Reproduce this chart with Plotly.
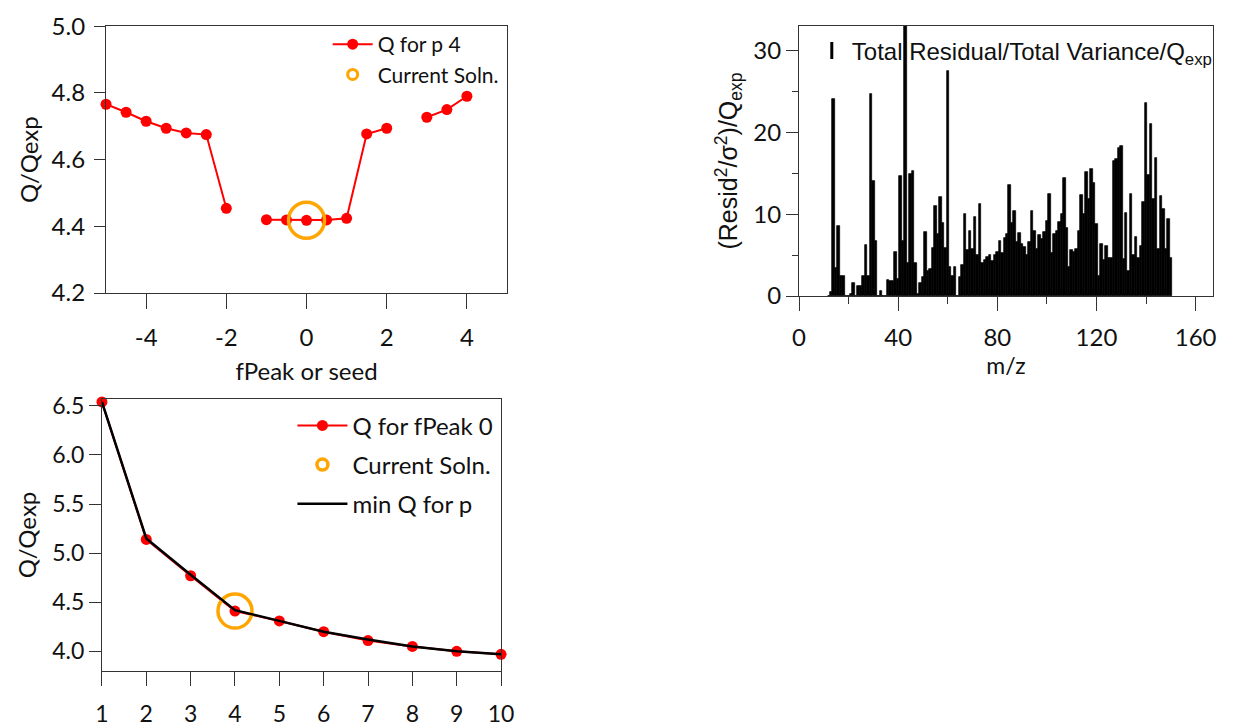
import plotly.graph_objects as go

# ---------------- data ----------------
# Top-left: Q/Qexp vs fPeak (p = 4)
fpeak = [-5, -4.5, -4, -3.5, -3, -2.5, -2, -1.5, -1, -0.5, 0, 0.5, 1, 1.5, 2, 2.5, 3, 3.5, 4]
q_p4 = [4.766, 4.742, 4.715, 4.694, 4.680, 4.675, 4.454, None, 4.420, 4.419, 4.418, 4.419,
        4.424, 4.677, 4.694, None, 4.727, 4.750, 4.790]
cur_fpeak = [0]
cur_q_fpeak = [4.418]
fpeak_tickvals = [-4, -2, 0, 2, 4]
fpeak_ticktext = ["-4", "-2", "0", "2", "4"]

# Bottom-left: Q/Qexp vs number of factors p
p_vals = [1, 2, 3, 4, 5, 6, 7, 8, 9, 10]
q_fpeak0 = [6.54, 5.14, 4.77, 4.41, 4.31, 4.20, 4.11, 4.05, 4.00, 3.97]
min_q_p = [6.54, 5.15, 4.78, 4.42, 4.31, 4.20, 4.12, 4.05, 4.00, 3.97]
cur_p = [4]
cur_q_p = [4.41]

# Top-right: scaled residual per m/z
mz = list(range(12, 151))
resid = [0, 0.5, 24.1, 3.4, 8.5, 2.5, 2.5, 0, 0, 0.3,
         1.6, 0, 1.2, 1.2, 2.4, 6.2, 2.5, 24.7, 14.0, 6.7,
         0, 0.6, 0, 0, 2.0, 1.8, 1.8, 5.4, 2.1, 14.7,
         6.7, 40.0, 4.0, 14.9, 15.3, 4.0, 0.3, 1.6, 2.3, 7.8,
         3.0, 3.3, 5.9, 11.0, 7.6, 12.1, 8.9, 5.9, 27.5, 3.5,
         2.4, 3.5, 0, 2.3, 3.8, 10.0, 5.6, 8.0, 5.8, 9.7,
         5.0, 11.3, 4.0, 4.4, 4.8, 5.0, 4.3, 5.0, 5.4, 6.7,
         5.2, 7.1, 7.6, 13.6, 8.9, 10.4, 6.6, 7.7, 6.4, 6.0,
         5.0, 6.6, 10.4, 8.0, 5.8, 7.4, 7.0, 7.8, 9.2, 12.5,
         5.2, 7.6, 8.0, 9.0, 10.0, 14.4, 8.3, 3.5, 5.6, 5.4,
         5.7, 8.0, 12.4, 10.0, 15.1, 11.8, 15.5, 13.8, 8.8, 2.5,
         6.3, 4.4, 6.1, 4.6, 4.6, 16.5, 16.8, 18.1, 18.3, 4.5,
         10.2, 3.0, 12.5, 5.0, 7.2, 4.6, 6.1, 11.5, 23.6, 14.8,
         21.0, 11.8, 16.9, 5.8, 12.2, 10.6, 5.8, 9.4, 4.6]

# ---------------- styles ----------------
RED = "#FF0000"
ORANGE = "#FFA500"
AX = "#333333"
TXT = "#111111"
TICKFONT = dict(family="Lato", size=24, color=TXT)
NB = "\u00a0"

fig = go.Figure()

# Top-left traces
fig.add_trace(go.Scatter(x=fpeak, y=q_p4, mode="lines+markers", name="Q for p 4",
                         line=dict(color=RED, width=2), marker=dict(color=RED, size=11),
                         xaxis="x", yaxis="y", legend="legend", legendgroup="a1",
                         cliponaxis=False, connectgaps=False))
fig.add_trace(go.Scatter(x=cur_fpeak, y=cur_q_fpeak, mode="markers", name="Current Soln.",
                         marker=dict(symbol="circle-open", size=36, color=ORANGE,
                                     line=dict(width=3.5, color=ORANGE)),
                         xaxis="x", yaxis="y", showlegend=False, cliponaxis=False))
fig.add_trace(go.Scatter(x=[None], y=[None], mode="markers", name="Current Soln.",
                         marker=dict(symbol="circle-open", size=10, color=ORANGE,
                                     line=dict(width=3, color=ORANGE)),
                         xaxis="x", yaxis="y", legend="legend", legendgroup="a2"))

# Top-right bars
fig.add_trace(go.Bar(x=mz, y=resid, marker=dict(color="black", line=dict(width=0.7, color="black")),
                     width=1.0, showlegend=False, xaxis="x2", yaxis="y2"))
fig.add_trace(go.Scatter(x=[None], y=[None], mode="markers",
                         name="Total Residual/Total Variance/Q<sub>exp</sub>",
                         marker=dict(symbol="line-ns", size=12, color="black",
                                     line=dict(width=3, color="black")),
                         xaxis="x2", yaxis="y2", legend="legend2"))

# Bottom-left traces
fig.add_trace(go.Scatter(x=p_vals, y=q_fpeak0, mode="lines+markers", name="Q for fPeak 0",
                         line=dict(color=RED, width=2), marker=dict(color=RED, size=11),
                         xaxis="x3", yaxis="y3", legend="legend3", legendgroup="b1",
                         cliponaxis=False))
fig.add_trace(go.Scatter(x=cur_p, y=cur_q_p, mode="markers", name="Current Soln.",
                         marker=dict(symbol="circle-open", size=34, color=ORANGE,
                                     line=dict(width=3.5, color=ORANGE)),
                         xaxis="x3", yaxis="y3", showlegend=False, cliponaxis=False))
fig.add_trace(go.Scatter(x=[None], y=[None], mode="markers", name="Current Soln.",
                         marker=dict(symbol="circle-open", size=11, color=ORANGE,
                                     line=dict(width=3.5, color=ORANGE)),
                         xaxis="x3", yaxis="y3", legend="legend3", legendgroup="b2"))
fig.add_trace(go.Scatter(x=p_vals, y=min_q_p, mode="lines", name="min Q for p",
                         line=dict(color="black", width=2.5),
                         xaxis="x3", yaxis="y3", legend="legend3", legendgroup="b3",
                         cliponaxis=False))

axcommon = dict(showline=True, linecolor=AX, linewidth=1.2, mirror=True, showgrid=False,
                zeroline=False, ticks="outside", tickcolor=AX, tickwidth=1.2,
                tickfont=TICKFONT, automargin=False)

fig.update_layout(
    width=1241, height=728,
    margin=dict(l=0, r=0, t=0, b=0, autoexpand=False),
    paper_bgcolor="white", plot_bgcolor="white",
    xaxis=dict(axcommon, domain=[0.0790, 0.4021], range=[-5, 5],
               tickvals=fpeak_tickvals, ticktext=fpeak_ticktext,
               ticklen=15, anchor="y", ticklabelstandoff=8,
               title=dict(text="fPeak or seed", font=dict(family="Lato", size=24, color=TXT),
                          standoff=13)),
    yaxis=dict(axcommon, domain=[0.6085, 0.975], range=[4.2, 5.0], dtick=0.2, tickformat=".1f",
               ticklen=11, anchor="x", ticklabelstandoff=4,
               title=dict(text="Q/Qexp", font=dict(family="Lato", size=24, color=TXT),
                          standoff=6)),
    xaxis2=dict(axcommon, domain=[0.6374, 0.9710], range=[0, 167], tickvals=[0, 40, 80, 120, 160],
                ticklen=14, anchor="y2", ticklabelstandoff=6,
                minor=dict(tickvals=[20, 60, 100, 140], ticks="outside", ticklen=7,
                           tickcolor=AX, tickwidth=1.2),
                title=dict(text="m/z", font=dict(family="Lato", size=23, color=TXT),
                           standoff=0)),
    yaxis2=dict(axcommon, domain=[0.6044, 0.9753], range=[0, 33], tickvals=[0, 10, 20, 30],
                ticklen=12, anchor="x2",
                minor=dict(tickvals=[5, 15, 25], ticks="outside", ticklen=6,
                           tickcolor=AX, tickwidth=1.2),
                title=dict(text="(Resid<sup>2</sup>/σ<sup>2</sup>)/Q<sub>exp</sub>" + NB * 5,
                           font=dict(family="Liberation Sans", size=25, color=TXT),
                           standoff=8)),
    xaxis3=dict(axcommon, domain=[0.0757, 0.3973], range=[1, 10], dtick=1, ticklen=14,
                anchor="y3", ticklabelstandoff=8,
                tickfont=dict(family="Lato", size=23, color=TXT)),
    yaxis3=dict(axcommon, domain=[0.0893, 0.4629], range=[3.8, 6.57],
                tickvals=[4.0, 4.5, 5.0, 5.5, 6.0, 6.5], tickformat=".1f", ticklen=12,
                anchor="x3", tickfont=dict(family="Lato", size=23, color=TXT),
                title=dict(text="Q/Qexp", font=dict(family="Lato", size=24, color=TXT),
                           standoff=8)),
    legend=dict(x=0.2576, y=0.978, xanchor="left", yanchor="top", bgcolor="rgba(0,0,0,0)",
                font=dict(family="Lato", size=21, color=TXT), itemsizing="trace",
                tracegroupgap=0, itemwidth=40),
    legend2=dict(x=0.6477, y=0.972, xanchor="left", yanchor="top", bgcolor="rgba(0,0,0,0)",
                 font=dict(family="Liberation Sans", size=24, color=TXT), itemwidth=30),
    legend3=dict(x=0.2292, y=0.457, xanchor="left", yanchor="top", bgcolor="rgba(0,0,0,0)",
                 font=dict(family="Lato", size=24, color=TXT), itemsizing="trace",
                 tracegroupgap=5, itemwidth=50),
    bargap=0,
)

fig.write_html("out.html")
